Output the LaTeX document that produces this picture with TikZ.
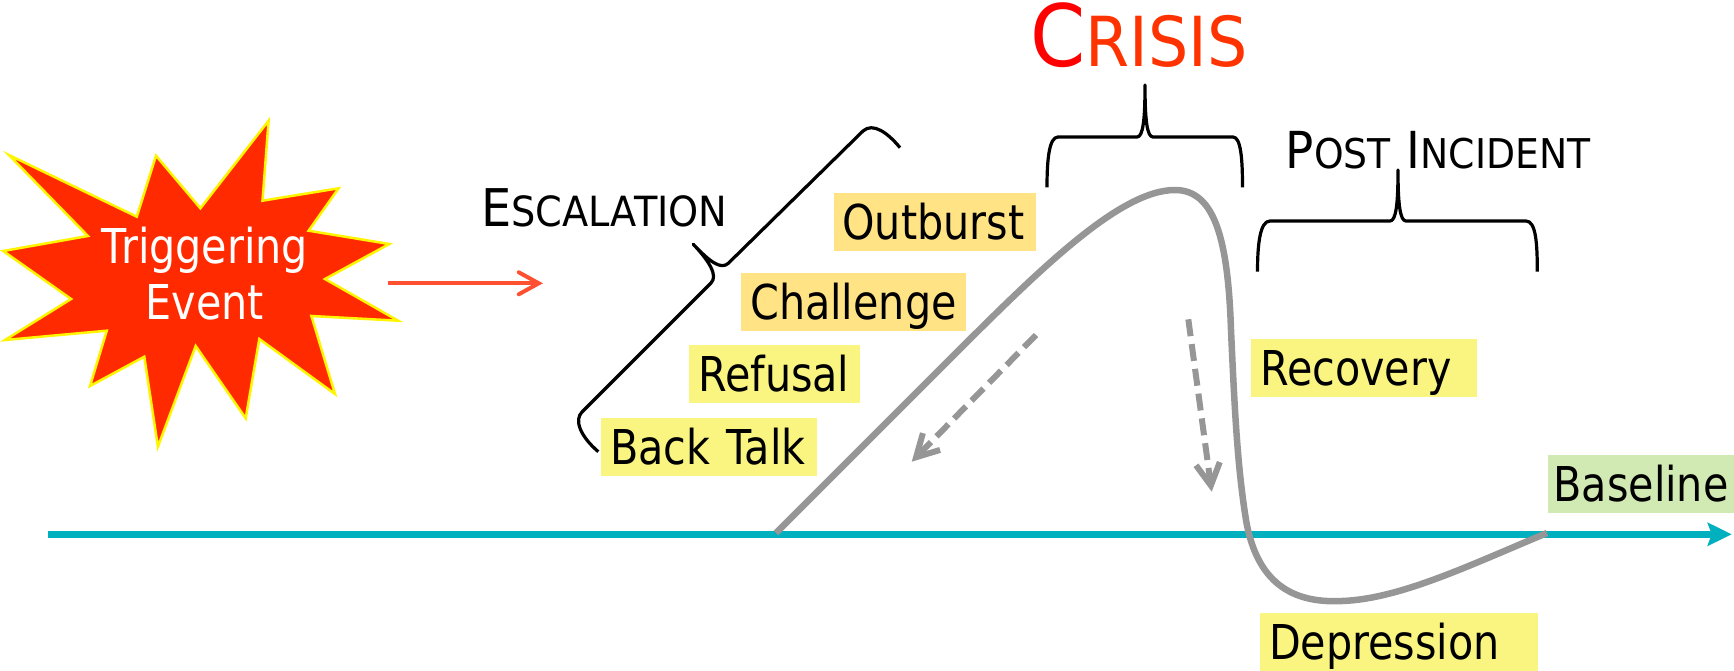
\documentclass[tikz,border=0pt]{standalone}
\usepackage{fontspec}
\setmainfont{DejaVu Sans}[FakeStretch=0.86]
\newfontfamily\titlefont{DejaVu Sans}[FakeStretch=0.92]
\usetikzlibrary{arrows.meta}
\definecolor{burst}{RGB}{255,42,0}
\definecolor{burstedge}{RGB}{255,245,0}
\definecolor{redarr}{RGB}{255,80,50}
\definecolor{orangebox}{RGB}{255,227,132}
\definecolor{yellowbox}{RGB}{249,245,128}
\definecolor{greenbox}{RGB}{209,233,178}
\definecolor{curvegray}{RGB}{150,150,150}
\definecolor{teal}{RGB}{0,176,190}
\definecolor{crisisC}{RGB}{255,0,0}
\definecolor{crisisR}{RGB}{255,51,0}
\tikzset{
  lbl/.style={anchor=north west, inner xsep=9pt, inner ysep=0pt,
    text height=46.6pt, text depth=11.4pt, align=left,
    font=\fontsize{48}{56}\selectfont},
  brace/.style={draw=black, line width=3.2pt, line join=round},
  curve/.style={draw=curvegray, line width=6.5pt, line join=round},
  dasharrow/.style={draw=curvegray, line width=6pt,
    dash pattern=on 17pt off 8pt,
    -{Straight Barb[length=22pt,width=24pt,line cap=butt]}},
  redarrow/.style={draw=redarr, line width=4pt,
    -{Straight Barb[length=20pt,width=22pt,line cap=round]}},
  axisline/.style={draw=teal, line width=7pt,
    -{Stealth[length=24pt,width=23pt,inset=4pt]}},
  title/.style={anchor=base west, inner sep=0pt}
}
\begin{document}
\begin{tikzpicture}[x=1pt,y=-1pt]
\useasboundingbox (0,0) rectangle (1734,671);

% starburst
\filldraw[fill=burst, draw=burstedge, line width=2.5pt, line join=miter]
  (8.9,155) -- (136.8,216.7) -- (156,155.7) -- (200.4,208.3) -- (268.6,120.7)
  -- (262.5,200.7) -- (338.6,188.3) -- (308.6,230.7) -- (389.3,244)
  -- (325,279) -- (398.2,320.7) -- (311.4,316) -- (335,394) -- (259.3,339)
  -- (245.7,418.3) -- (195.7,346) -- (157.9,446.7) -- (144.3,356.7)
  -- (90,386) -- (106.8,330.7) -- (5,340) -- (71.1,299) -- (3.2,251)
  -- (87.9,236) -- cycle;
\node[inner sep=0pt, align=center, text=white, font=\fontsize{48}{55.7}\selectfont,
  anchor=base] (trigger) at (205,319) {Triggering\\Event};

% red arrow
\coordinate (ra) at (387.5,283.3);
\coordinate (rb) at (542.9,283.3);
\draw[redarrow] (ra) -- (rb);

% axis
\coordinate (ax0) at (47.5,534.3);
\coordinate (ax1) at (1731.7,534.3);
\draw[axisline] (ax0) -- (ax1);

% crisis curve
\draw[curve] (776,533) -- (950,359)
  .. controls (1040,269) and (1120,190) .. (1175,190)
  .. controls (1215,190) and (1228,240) .. (1231,330)
  .. controls (1235,420) and (1238,470) .. (1246,520)
  .. controls (1258,590) and (1300,603) .. (1342,601)
  .. controls (1400,599) and (1470,565) .. (1547,533);

% dashed arrows
\coordinate (d1a) at (1036,335);
\coordinate (d1b) at (911.7,461.7);
\draw[dasharrow] (d1a) -- (d1b);
\coordinate (d2a) at (1188.3,319.3);
\coordinate (d2b) at (1211.7,491.7);
\draw[dasharrow] (d2a) -- (d2b);

% escalation brace
\draw[brace] (900,147.7) .. controls (888,133) and (873,122) .. (863,131)
  -- (728.3,263.3) .. controls (721,270) and (710,262) .. (693.3,244.3)
  .. controls (710,262) and (718,276) .. (711,283)
  -- (582,412) .. controls (574,420) and (580,436) .. (598.3,451.7);

% crisis brace
\draw[brace] (1047,187.3) .. controls (1047,160) and (1049,137) .. (1058,137)
  -- (1137,137) .. controls (1143,137) and (1145,120) .. (1145,85)
  .. controls (1145,120) and (1147,137) .. (1153,137)
  -- (1233,137) .. controls (1241,137) and (1242.5,160) .. (1242.5,187.3);

% post incident brace
\draw[brace] (1257.5,271.7) .. controls (1257.5,244) and (1260,221) .. (1270,221)
  -- (1390,221) .. controls (1396,221) and (1398,204) .. (1398,170)
  .. controls (1398,204) and (1400,221) .. (1406,221)
  -- (1526,221) .. controls (1536,221) and (1537.3,244) .. (1537.3,271.7);

% titles
\node[title] (esc) at (481,226.7) {\titlefont\fontsize{52}{60}\selectfont E\fontsize{41.6}{50}\selectfont SCALATION};
\node[title] (crisis) at (1030,66.7) {\titlefont\fontsize{86}{90}\selectfont\textcolor{crisisC}{C}\fontsize{69}{80}\selectfont\textcolor{crisisR}{RISIS}};
\node[title] (post) at (1285.6,168.3) {\titlefont\fontsize{51}{60}\selectfont P\fontsize{41}{50}\selectfont OST\hspace{4pt} \fontsize{51}{60}\selectfont I\fontsize{41}{50}\selectfont NCIDENT};

% labels
\node[lbl, fill=orangebox, text width=184.4pt] (outburst) at (833.3,192.7) {Outburst};
\node[lbl, fill=orangebox, text width=206.7pt] (challenge) at (741,272.3) {Challenge};
\node[lbl, fill=yellowbox, text width=153pt] (refusal) at (689,345) {Refusal};
\node[lbl, fill=yellowbox, text width=198pt] (backtalk) at (601,417.3) {Back Talk};
\node[lbl, fill=yellowbox, text width=207.4pt] (recovery) at (1251,339) {Recovery};
\node[lbl, fill=yellowbox, text width=259.5pt] (depression) at (1259.8,612.3) {Depression};
\node[lbl, fill=greenbox, inner xsep=6pt, text width=174pt] (baseline) at (1547.3,454.3) {Baseline};
\end{tikzpicture}
\end{document}
